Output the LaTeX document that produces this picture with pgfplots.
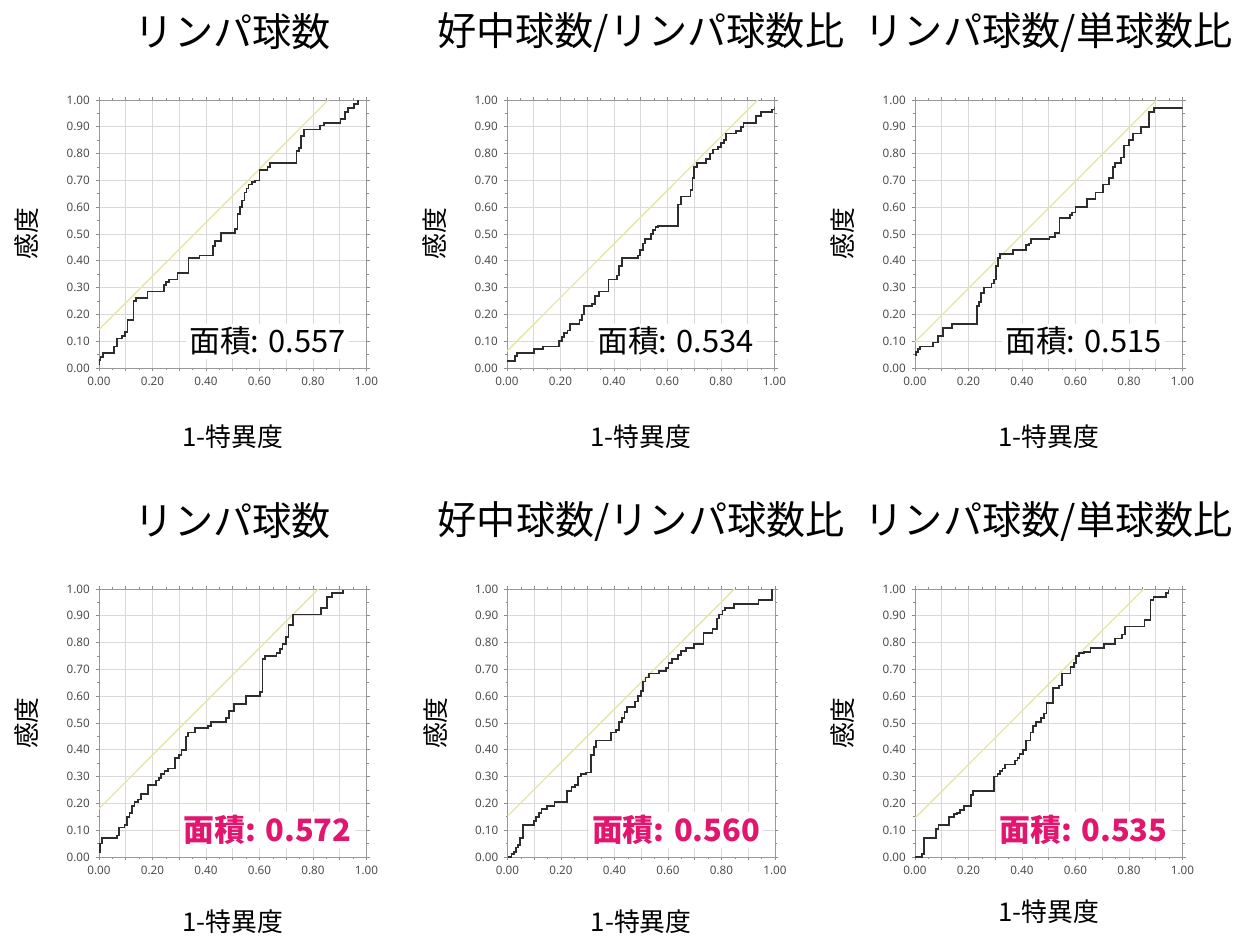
\documentclass[border=0pt]{standalone}
\usepackage{fontspec}
\setmainfont{Noto Sans CJK JP}
\newfontfamily\tickfont{Noto Sans}
\usepackage{pgfplots}
\pgfplotsset{compat=1.18}
\definecolor{diagc}{RGB}{234,228,165}
\definecolor{rocc}{RGB}{45,45,45}
\definecolor{pinkc}{RGB}{226,22,110}
\pgfplotsset{
  rocaxis/.style={
    scale only axis, width=160.5pt, height=160.8pt,
    xmin=0, xmax=1, ymin=0, ymax=1,
    xtick={0,0.1,0.2,0.3,0.4,0.5,0.6,0.7,0.8,0.9,1},
    xticklabels={0.00,,0.20,,0.40,,0.60,,0.80,,1.00},
    ytick={0,0.1,0.2,0.3,0.4,0.5,0.6,0.7,0.8,0.9,1},
    yticklabels={0.00,0.10,0.20,0.30,0.40,0.50,0.60,0.70,0.80,0.90,1.00},
    minor tick num=1,
    grid=major, major grid style={black!15, line width=0.5pt},
    axis line style={black!40},
    tick align=outside, major tick length=2pt, minor tick length=1.2pt,
    every tick/.style={black!45, line width=0.4pt},
    ticklabel style={font=\tickfont\fontsize{7}{8}\selectfont, text=black!70},
    xlabel={1-特異度}, ylabel={感度},
    label style={font=\fontsize{15.5}{18}\selectfont},
    ylabel style={at={(-0.27,0.5)}, anchor=center},
    title style={at={(0.5,1.216)}, anchor=center, font=\fontsize{23.5}{26}\selectfont},
  },
  diag/.style={diagc, line width=0.8pt},
  roc/.style={rocc, line width=1.05pt, const plot, mark=none},
}
\newcommand{\panel}[8]{%
\begin{axis}[rocaxis, at={#1}, anchor=south west, title={#2}, xlabel style={at={(0.5,#8)}, anchor=center}]
\addplot[diag] coordinates {(0,#4) (#5,1)};
\addplot[roc] coordinates {#3};
\node[fill=white, inner sep=2pt, #7] at (rel axis cs:0.63,0.10) {#6};
\end{axis}}
\begin{document}
\begin{tikzpicture}
\useasboundingbox (0,0) rectangle (747pt,562.8pt);
\panel{(59.4pt,342pt)}{リンパ球数}{(0,0.01) (0,0.03) (0.006,0.04) (0.014,0.055) (0.057,0.08) (0.066,0.11) (0.085,0.12) (0.097,0.135) (0.107,0.18) (0.129,0.25) (0.139,0.26) (0.181,0.285) (0.243,0.31) (0.251,0.32) (0.263,0.33) (0.293,0.355) (0.335,0.41) (0.376,0.42) (0.426,0.455) (0.434,0.475) (0.456,0.505) (0.509,0.52) (0.518,0.575) (0.526,0.60) (0.534,0.625) (0.544,0.655) (0.551,0.67) (0.559,0.685) (0.572,0.695) (0.584,0.70) (0.600,0.74) (0.630,0.75) (0.640,0.765) (0.738,0.81) (0.747,0.82) (0.755,0.865) (0.765,0.89) (0.825,0.905) (0.840,0.915) (0.903,0.93) (0.921,0.955) (0.930,0.97) (0.953,0.985) (0.969,1.0)}{0.143}{0.857}{面積: 0.557}{font=\fontsize{18.5}{20}\selectfont}{-0.257}
\panel{(304.2pt,342pt)}{好中球数/リンパ球数比}{(0,0.025) (0.029,0.045) (0.037,0.055) (0.102,0.07) (0.134,0.08) (0.195,0.10) (0.205,0.115) (0.214,0.13) (0.226,0.14) (0.236,0.165) (0.271,0.18) (0.280,0.20) (0.289,0.23) (0.319,0.24) (0.329,0.27) (0.345,0.285) (0.379,0.33) (0.410,0.345) (0.419,0.38) (0.431,0.41) (0.491,0.42) (0.497,0.44) (0.507,0.465) (0.517,0.48) (0.537,0.50) (0.547,0.515) (0.555,0.525) (0.565,0.53) (0.640,0.61) (0.650,0.64) (0.686,0.665) (0.693,0.71) (0.699,0.75) (0.711,0.765) (0.745,0.78) (0.758,0.80) (0.770,0.815) (0.789,0.825) (0.801,0.84) (0.811,0.85) (0.820,0.875) (0.857,0.885) (0.876,0.90) (0.884,0.915) (0.932,0.94) (0.950,0.955) (0.990,0.965) (1.0,0.975)}{0.063}{0.937}{面積: 0.534}{font=\fontsize{18.5}{20}\selectfont}{-0.257}
\panel{(549pt,342pt)}{リンパ球数/単球数比}{(0,0.047) (0.004,0.06) (0.012,0.07) (0.019,0.08) (0.068,0.095) (0.087,0.12) (0.106,0.15) (0.137,0.165) (0.232,0.23) (0.240,0.245) (0.248,0.28) (0.257,0.30) (0.286,0.315) (0.294,0.33) (0.302,0.38) (0.311,0.41) (0.319,0.425) (0.366,0.44) (0.416,0.46) (0.426,0.465) (0.435,0.48) (0.503,0.49) (0.522,0.505) (0.540,0.56) (0.578,0.57) (0.588,0.58) (0.600,0.60) (0.642,0.63) (0.675,0.655) (0.702,0.685) (0.724,0.71) (0.739,0.75) (0.748,0.765) (0.770,0.785) (0.780,0.83) (0.799,0.85) (0.814,0.875) (0.845,0.90) (0.876,0.955) (0.894,0.97) (1.0,0.97)}{0.097}{0.903}{面積: 0.515}{font=\fontsize{18.5}{20}\selectfont}{-0.257}
\panel{(59.4pt,48.6pt)}{リンパ球数}{(0,0.02) (0.004,0.05) (0.011,0.07) (0.066,0.08) (0.076,0.11) (0.095,0.12) (0.105,0.15) (0.114,0.165) (0.124,0.19) (0.133,0.205) (0.145,0.215) (0.158,0.235) (0.183,0.27) (0.214,0.285) (0.224,0.295) (0.233,0.31) (0.245,0.32) (0.258,0.33) (0.283,0.37) (0.299,0.38) (0.308,0.40) (0.324,0.45) (0.333,0.465) (0.358,0.48) (0.408,0.49) (0.420,0.505) (0.476,0.52) (0.486,0.545) (0.504,0.57) (0.549,0.60) (0.601,0.615) (0.611,0.74) (0.620,0.75) (0.664,0.76) (0.676,0.775) (0.686,0.795) (0.699,0.82) (0.708,0.865) (0.726,0.905) (0.829,0.93) (0.851,0.97) (0.870,0.985) (0.911,0.995)}{0.18}{0.82}{面積: 0.572}{font=\bfseries\fontsize{18.5}{20}\selectfont, text=pinkc}{-0.243}
\panel{(304.5pt,48.6pt)}{好中球数/リンパ球数比}{(0,0) (0.015,0.01) (0.024,0.02) (0.031,0.035) (0.040,0.045) (0.048,0.07) (0.058,0.12) (0.098,0.135) (0.106,0.15) (0.117,0.165) (0.127,0.18) (0.148,0.19) (0.176,0.205) (0.222,0.245) (0.239,0.26) (0.251,0.27) (0.263,0.30) (0.276,0.31) (0.294,0.315) (0.313,0.38) (0.322,0.41) (0.332,0.435) (0.388,0.465) (0.406,0.475) (0.416,0.505) (0.427,0.52) (0.437,0.54) (0.447,0.56) (0.477,0.58) (0.487,0.60) (0.499,0.62) (0.506,0.655) (0.516,0.67) (0.528,0.685) (0.565,0.695) (0.593,0.705) (0.602,0.725) (0.614,0.74) (0.636,0.755) (0.648,0.77) (0.667,0.78) (0.698,0.795) (0.733,0.835) (0.766,0.85) (0.783,0.89) (0.791,0.905) (0.804,0.92) (0.812,0.93) (0.847,0.945) (0.938,0.96) (0.990,1.0)}{0.152}{0.848}{面積: 0.560}{font=\bfseries\fontsize{18.5}{20}\selectfont, text=pinkc}{-0.243}
\panel{(549pt,48.6pt)}{リンパ球数/単球数比}{(0,0) (0.026,0.01) (0.035,0.07) (0.078,0.105) (0.088,0.12) (0.128,0.15) (0.147,0.16) (0.157,0.165) (0.168,0.175) (0.184,0.19) (0.209,0.23) (0.217,0.245) (0.296,0.30) (0.308,0.31) (0.317,0.32) (0.327,0.33) (0.337,0.345) (0.373,0.36) (0.383,0.37) (0.391,0.385) (0.404,0.40) (0.414,0.435) (0.432,0.465) (0.441,0.49) (0.451,0.505) (0.470,0.52) (0.482,0.535) (0.492,0.575) (0.517,0.63) (0.538,0.64) (0.550,0.685) (0.581,0.71) (0.594,0.725) (0.602,0.75) (0.612,0.76) (0.631,0.765) (0.656,0.78) (0.706,0.795) (0.749,0.815) (0.774,0.83) (0.786,0.86) (0.858,0.885) (0.880,0.96) (0.892,0.97) (0.939,0.985) (0.948,0.995)}{0.145}{0.855}{面積: 0.535}{font=\bfseries\fontsize{18.5}{20}\selectfont, text=pinkc}{-0.205}
\end{tikzpicture}
\end{document}
